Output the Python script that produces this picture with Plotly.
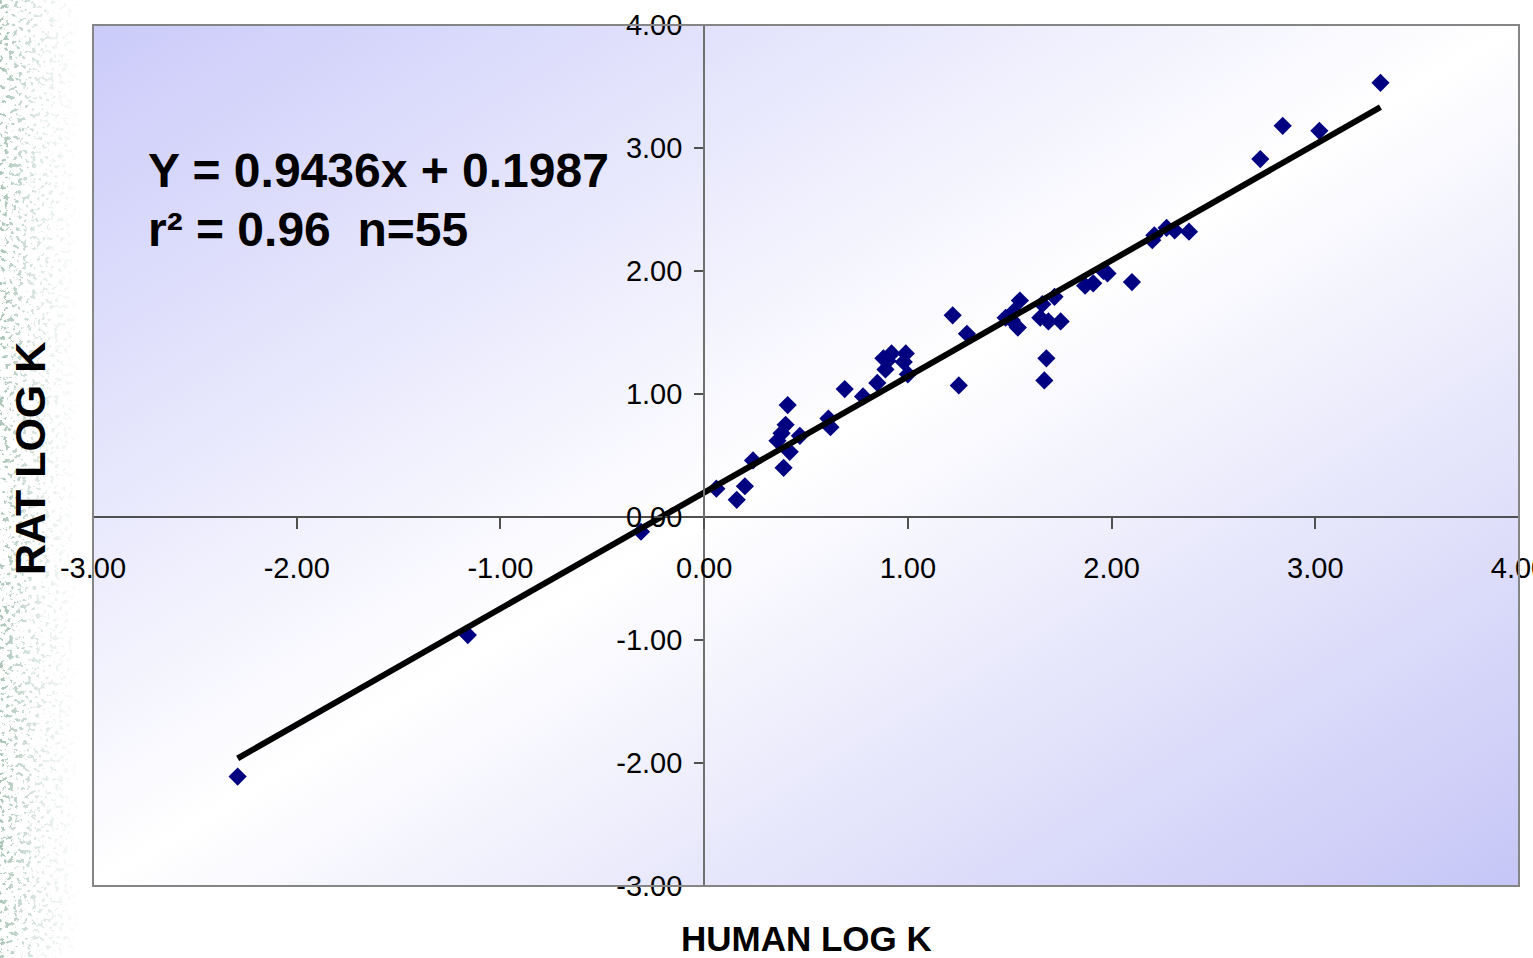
import base64
import plotly.graph_objects as go

# Log K values (human vs rat), one point per compound
human_log_k = [
    -2.29, -1.16, -0.31, 0.06, 0.16, 0.20, 0.24, 0.36, 0.39, 0.40,
    0.41, 0.42, 0.47, 0.38, 0.61, 0.62, 0.69, 0.78, 0.85, 0.89,
    0.88, 0.92, 0.90, 0.98, 0.99, 1.00, 1.22, 1.29, 1.25, 1.48,
    1.52, 1.55, 1.54, 1.51, 1.66, 1.72, 1.65, 1.69, 1.75, 1.68,
    1.67, 1.87, 1.91, 1.96, 1.98, 2.10, 2.20, 2.21, 2.27, 2.31,
    2.38, 2.73, 2.84, 3.02, 3.32,
]
rat_log_k = [
    -2.11, -0.96, -0.12, 0.23, 0.14, 0.25, 0.46, 0.62, 0.40, 0.75,
    0.91, 0.53, 0.66, 0.68, 0.80, 0.73, 1.04, 0.98, 1.09, 1.20,
    1.29, 1.33, 1.27, 1.26, 1.33, 1.16, 1.64, 1.49, 1.07, 1.62,
    1.67, 1.76, 1.54, 1.60, 1.73, 1.79, 1.62, 1.59, 1.59, 1.29,
    1.11, 1.88, 1.90, 2.00, 1.98, 1.91, 2.25, 2.29, 2.35, 2.33,
    2.32, 2.91, 3.18, 3.14, 3.53,
]

# Regression reported on the chart
slope = 0.9436
intercept = 0.1987
r_squared = 0.96

x_range = [-3, 4]
y_range = [-3, 4]
x_ticks = [-3, -2, -1, 0, 1, 2, 3, 4]
y_ticks = [-3, -2, -1, 0, 1, 2, 3, 4]

W, H = 1533, 958
ml, mr, mt, mb = 93, 14, 25, 72
pw, ph = W - ml - mr, H - mt - mb

trend_x = [min(human_log_k), max(human_log_k)]
trend_y = [slope * v + intercept for v in trend_x]

# where the axes cross (data origin) as a fraction of the plot area
x_axis_pos = (0 - y_range[0]) / (y_range[1] - y_range[0])
y_axis_pos = (0 - x_range[0]) / (x_range[1] - x_range[0])

sans = "Liberation Sans, Arial, sans-serif"

fig = go.Figure()
fig.add_trace(go.Scatter(
    x=human_log_k, y=rat_log_k, mode="markers",
    marker=dict(symbol="diamond", size=14, color="#000080", line=dict(width=0)),
    showlegend=False, hoverinfo="x+y",
))
fig.add_trace(go.Scatter(
    x=trend_x, y=trend_y, mode="lines",
    line=dict(color="black", width=6),
    showlegend=False, hoverinfo="skip",
))

# plot-area fill: lavender corners fading to white along the diagonal
bg_svg = (
    '<svg xmlns="http://www.w3.org/2000/svg" width="100" height="100" '
    'viewBox="0 0 100 100" preserveAspectRatio="none">'
    '<defs><linearGradient id="g" x1="0" y1="0" x2="1" y2="1">'
    '<stop offset="0" stop-color="#cbcbfa"/>'
    '<stop offset="0.5" stop-color="#ffffff"/>'
    '<stop offset="1" stop-color="#c6c6f7"/>'
    '</linearGradient></defs>'
    '<rect width="100" height="100" fill="url(#g)"/></svg>'
)

# speckled strip down the left edge of the slide
strip_w = 80
strip_svg = (
    f'<svg xmlns="http://www.w3.org/2000/svg" width="{strip_w}" height="{H}" '
    f'viewBox="0 0 {strip_w} {H}" preserveAspectRatio="none">'
    '<defs>'
    '<filter id="n" x="0" y="0" width="100%" height="100%">'
    '<feTurbulence type="fractalNoise" baseFrequency="0.22" numOctaves="3" seed="11"/>'
    '<feColorMatrix type="matrix" values="0 0 0 0 0.30  0 0 0 0 0.47  0 0 0 0 0.38  12 0 0 0 -6.9"/>'
    '</filter>'
    '<linearGradient id="f" x1="0" y1="0" x2="1" y2="0">'
    '<stop offset="0" stop-color="white" stop-opacity="0.8"/>'
    '<stop offset="0.5" stop-color="white" stop-opacity="0.3"/>'
    '<stop offset="1" stop-color="white" stop-opacity="0"/>'
    '</linearGradient>'
    f'<mask id="m"><rect width="{strip_w}" height="{H}" fill="url(#f)"/></mask>'
    '</defs>'
    f'<rect width="{strip_w}" height="{H}" filter="url(#n)" mask="url(#m)"/>'
    '</svg>'
)


def svg_uri(svg):
    return "data:image/svg+xml;base64," + base64.b64encode(svg.encode()).decode()


fig.update_layout(
    images=[
        dict(source=svg_uri(bg_svg), xref="paper", yref="paper", x=0, y=1,
             sizex=1, sizey=1, xanchor="left", yanchor="top",
             sizing="stretch", layer="below"),
        dict(source=svg_uri(strip_svg), xref="paper", yref="paper",
             x=-ml / pw, y=1 + mt / ph, sizex=strip_w / pw, sizey=H / ph,
             xanchor="left", yanchor="top", sizing="stretch", layer="below"),
    ],
    shapes=[dict(type="rect", xref="paper", yref="paper", x0=0, y0=0, x1=1, y1=1,
                 line=dict(color="#858585", width=2), layer="above")],
)

tick_font = dict(family=sans, size=29, color="black")

fig.update_xaxes(
    range=x_range, tickvals=x_ticks, ticktext=[f"{v:.2f}" for v in x_ticks],
    showgrid=False, zeroline=False, showline=True, linecolor="#505050", linewidth=1.5,
    ticks="outside", ticklen=11, tickwidth=1.5, tickcolor="#505050",
    anchor="free", position=x_axis_pos, tickfont=tick_font,
    ticklabelstandoff=14, ticklabeloverflow="allow", automargin=False,
)
fig.update_yaxes(
    range=y_range, tickvals=y_ticks, ticktext=[f"{v:.2f}" for v in y_ticks],
    showgrid=False, zeroline=False, showline=True, linecolor="#707070", linewidth=2,
    ticks="outside", ticklen=9, tickwidth=1.5, tickcolor="#505050",
    anchor="free", position=y_axis_pos, tickfont=tick_font,
    ticklabelstandoff=6, ticklabeloverflow="allow", automargin=False,
)

eq_font = dict(family=sans, size=48, color="black", weight="bold")
fig.add_annotation(
    text=f"Y = {slope:.4f}x + {intercept:.4f}", xref="paper", yref="paper",
    x=(146 - ml) / pw, y=1 - (171 - mt) / ph, xanchor="left", yanchor="middle",
    showarrow=False, font=eq_font,
)
fig.add_annotation(
    text=f"r\u00b2 = {r_squared:.2f}\u00a0\u00a0n={len(human_log_k)}", xref="paper", yref="paper",
    x=(146 - ml) / pw, y=1 - (229 - mt) / ph, xanchor="left", yanchor="middle",
    showarrow=False, font=eq_font,
)
fig.add_annotation(
    text="HUMAN LOG K", xref="paper", yref="paper",
    x=0.5, y=-(938 - mt - ph) / ph, xanchor="center", yanchor="middle",
    showarrow=False, font=dict(family=sans, size=35, color="black", weight="bold"),
)
fig.add_annotation(
    text="RAT LOG K", xref="paper", yref="paper", textangle=-90,
    x=(30 - ml) / pw, y=1 - (459 - mt) / ph, xanchor="center", yanchor="middle",
    showarrow=False, font=dict(family=sans, size=43, color="black", weight="bold"),
)

fig.update_layout(
    width=W, height=H,
    margin=dict(l=ml, r=mr, t=mt, b=mb, pad=0, autoexpand=False),
    paper_bgcolor="white", plot_bgcolor="rgba(0,0,0,0)",
    showlegend=False,
)

fig.write_html("out.html")
